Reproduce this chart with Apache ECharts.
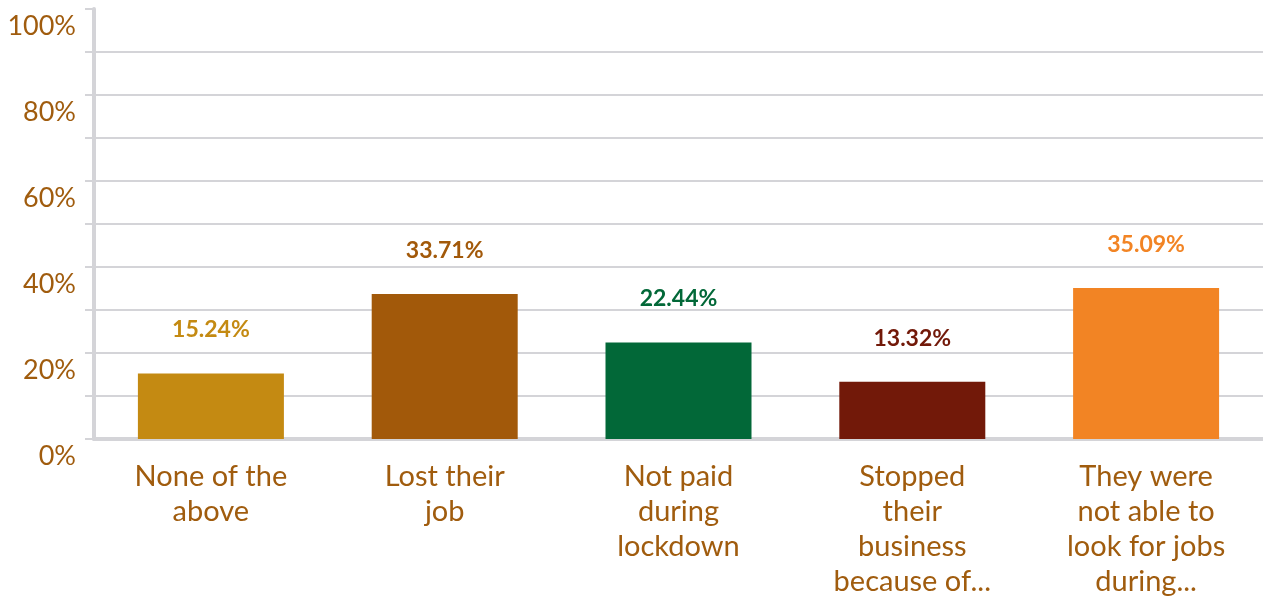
<!DOCTYPE html>
<html><head><meta charset="utf-8">
<script src="https://cdn.jsdelivr.net/npm/echarts@6/dist/echarts.min.js"></script>
<style>html,body{margin:0;padding:0;background:#fff}#c{width:1263px;height:597px}</style>
</head><body><div id="c"></div>
<script>
const categories = ["None of the\nabove", "Lost their\njob", "Not paid\nduring\nlockdown", "Stopped\ntheir\nbusiness\nbecause of...", "They were\nnot able to\nlook for jobs\nduring..."];
const values = [15.24, 33.71, 22.44, 13.32, 35.09];
const barColors = ["#c48a12", "#a2590a", "#026838", "#721909", "#f28424"];
const yTicks = [0, 20, 40, 60, 80, 100];

const labelColor = "#a05c0e";
const gridColor = "#d4d4d8";
const font = "Lato, 'Open Sans', sans-serif";

const chart = echarts.init(document.getElementById('c'), null, {renderer: 'canvas'});
const splitColors = [];
for (let i = 0; i <= 10; i++) splitColors.push(i === 10 ? 'rgba(0,0,0,0)' : gridColor);

chart.setOption({
  animation: false,
  grid: {left: 94, right: 0, top: 9, bottom: 158, containLabel: false, outerBoundsMode: 'none'},
  xAxis: {
    type: 'category',
    data: categories,
    axisLine: {show: true, lineStyle: {color: gridColor, width: 4}},
    axisTick: {show: false},
    axisLabel: {color: labelColor, fontFamily: font, fontSize: 29, lineHeight: 35, margin: 20, interval: 0}
  },
  yAxis: {
    type: 'value', min: 0, max: 100, interval: 10,
    axisLine: {show: true, lineStyle: {color: gridColor, width: 4}},
    axisTick: {show: true, length: 9, lineStyle: {color: gridColor, width: 2}},
    splitLine: {show: true, lineStyle: {color: splitColors, width: 2}},
    axisLabel: {
      color: labelColor, fontFamily: font, fontSize: 27, margin: 18,
      verticalAlign: 'top', padding: [4, 0, 0, 0],
      formatter: v => yTicks.includes(v) ? v + '%' : ''
    }
  },
  series: [{
    type: 'bar',
    barWidth: 146,
    data: values.map((v, i) => ({value: v, itemStyle: {color: barColors[i]}, label: {color: barColors[i]}})),
    label: {
      show: true, position: 'top', distance: 32,
      fontFamily: font, fontSize: 23, fontWeight: 'bold',
      formatter: p => p.value.toFixed(2) + '%'
    }
  }]
});
</script></body></html>
